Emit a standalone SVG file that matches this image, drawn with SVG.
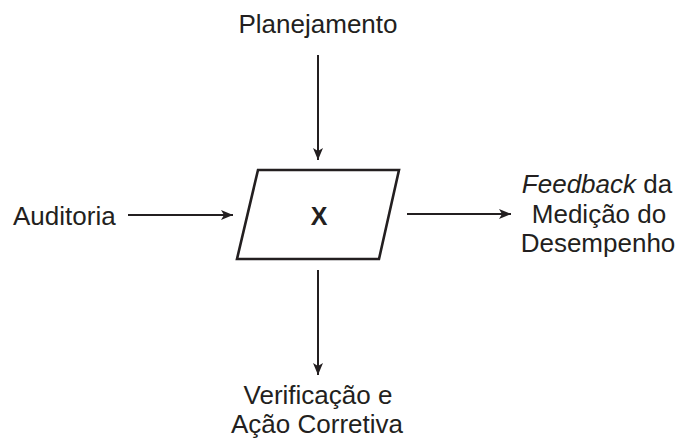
<svg xmlns="http://www.w3.org/2000/svg" width="689" height="438" viewBox="0 0 689 438">
<defs>
<marker id="ah" viewBox="0 0 12 10" refX="12" refY="5" markerWidth="12" markerHeight="10" markerUnits="userSpaceOnUse" orient="auto">
<path d="M0,0 L12,5 L0,10 L3,5 Z" fill="#231f20"/>
</marker>
</defs>
<style>
text{font-family:"Liberation Sans",Arial,sans-serif;font-size:26px;fill:#231f20}
.c{stroke:#231f20;stroke-width:2;fill:none}
</style>
<rect width="689" height="438" fill="#fff"/>
<g id="connectors">
<line class="c" x1="318" y1="55" x2="318" y2="160" marker-end="url(#ah)"/>
<line class="c" x1="318" y1="270" x2="318" y2="375" marker-end="url(#ah)"/>
<line class="c" x1="128" y1="215" x2="233" y2="215" marker-end="url(#ah)"/>
<line class="c" x1="407" y1="214" x2="511" y2="214" marker-end="url(#ah)"/>
</g>
<g id="node-x">
<polygon points="258,170 399,170 379,259 237,259" fill="#fff" stroke="#231f20" stroke-width="2.6" stroke-linejoin="miter"/>
<text x="319" y="225" text-anchor="middle" style="font-weight:bold;font-size:25px">X</text>
</g>
<g id="node-planejamento">
<text x="318" y="33" text-anchor="middle">Planejamento</text>
</g>
<g id="node-auditoria">
<text x="13" y="225">Auditoria</text>
</g>
<g id="node-feedback">
<text x="597" y="193" text-anchor="middle"><tspan font-style="italic">Feedback</tspan> da</text>
<text x="599" y="223" text-anchor="middle">Medição do</text>
<text x="598" y="252" text-anchor="middle">Desempenho</text>
</g>
<g id="node-verificacao">
<text x="318" y="404" text-anchor="middle">Verificação e</text>
<text x="317" y="433" text-anchor="middle">Ação Corretiva</text>
</g>
</svg>
